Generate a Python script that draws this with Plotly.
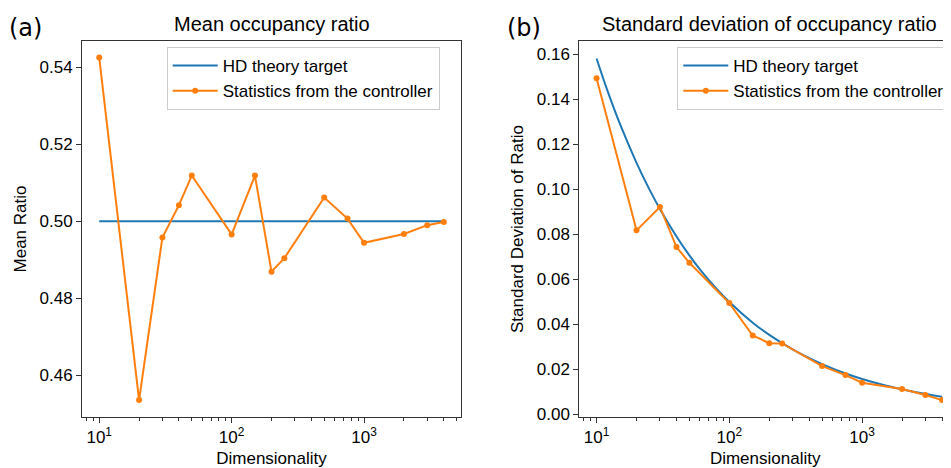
import plotly.graph_objects as go

# dimensionality sampled by the controller
dims = [10, 20, 30, 40, 50, 100, 150, 200, 250, 500, 750, 1000, 2000, 3000, 4000]

# panel (a): mean occupancy ratio
mean_ratio = [0.5426, 0.4535, 0.4958, 0.5042, 0.5119, 0.4966, 0.5119, 0.4869,
              0.4904, 0.5062, 0.5007, 0.4944, 0.4967, 0.4990, 0.4998]
theory_mean_dims = [10, 4000]
theory_mean = [0.5, 0.5]

# panel (b): standard deviation of occupancy ratio
std_ratio = [0.1493, 0.0818, 0.0922, 0.0744, 0.0674, 0.0495, 0.0351, 0.0317,
             0.0316, 0.0215, 0.0175, 0.0141, 0.0113, 0.0087, 0.0064]
theory_std_dims = [10, 12, 15, 20, 25, 30, 40, 50, 60, 80, 100, 150, 200, 300,
                   400, 500, 700, 1000, 1500, 2000, 3000, 4000]
theory_std = [0.1581, 0.1443, 0.1291, 0.1118, 0.1000, 0.0913, 0.0791, 0.0707,
              0.0645, 0.0559, 0.0500, 0.0408, 0.0354, 0.0289, 0.0250, 0.0224,
              0.0189, 0.0158, 0.0129, 0.0112, 0.0091, 0.0079]

BLUE = "#1f77b4"
ORANGE = "#ff7f0e"
FONT = "Liberation Sans, Arial, sans-serif"

# the page body adds an 8px margin, so lay out in window pixels minus that
OFF = 8
W, H = 951 - OFF, 468 - OFF


def px(x):
    return (x - OFF) / W


def py(y):
    return 1 - (y - OFF) / H


fig = go.Figure()

# (a)
fig.add_trace(go.Scatter(x=theory_mean_dims, y=theory_mean, mode="lines",
                         line=dict(color=BLUE, width=2), name="HD theory target",
                         xaxis="x", yaxis="y", legend="legend"))
fig.add_trace(go.Scatter(x=dims, y=mean_ratio, mode="lines+markers",
                         line=dict(color=ORANGE, width=2), marker=dict(size=6),
                         name="Statistics from the controller",
                         xaxis="x", yaxis="y", legend="legend"))
# (b)
fig.add_trace(go.Scatter(x=theory_std_dims, y=theory_std, mode="lines",
                         line=dict(color=BLUE, width=2, shape="spline"),
                         name="HD theory target",
                         xaxis="x2", yaxis="y2", legend="legend2"))
fig.add_trace(go.Scatter(x=dims, y=std_ratio, mode="lines+markers",
                         line=dict(color=ORANGE, width=2), marker=dict(size=6),
                         name="Statistics from the controller",
                         xaxis="x2", yaxis="y2", legend="legend2"))

xtick = dict(tickvals=[10, 100, 1000],
             ticktext=["10<sup>1</sup>", "10<sup>2</sup>", "10<sup>3</sup>"],
             ticks="outside", ticklen=5, tickcolor="#333", showgrid=False,
             zeroline=False, showline=True, linecolor="#333", linewidth=1,
             minor=dict(ticks="outside", ticklen=3, tickcolor="#333",
                        tickvals=[8, 9, 20, 30, 40, 50, 60, 70, 80, 90, 200, 300,
                                  400, 500, 600, 700, 800, 900, 2000, 3000,
                                  4000, 5000]),
             tickfont=dict(size=17),
             title=dict(text="Dimensionality", font=dict(size=17), standoff=6))
ytick = dict(ticks="outside", ticklen=5, tickcolor="#333", showgrid=False,
             zeroline=False, showline=True, linecolor="#333", linewidth=1,
             tickformat=".2f", dtick=0.02, tickfont=dict(size=17))

xlo, xhi = 0.870, 3.732
left_px = (82, 461)
right_px = (579.3, 959.3)
cut = xlo + (951 - right_px[0]) / (right_px[1] - right_px[0]) * (xhi - xlo)
top_px, bot_px = 41, 417

fig.update_layout(
    width=W, height=H,
    margin=dict(l=0, r=0, t=0, b=0, autoexpand=False),
    paper_bgcolor="white", plot_bgcolor="white",
    font=dict(family=FONT, size=17, color="black"),
    showlegend=True,
    xaxis=dict(type="log", range=[xlo, xhi], domain=[px(left_px[0]), px(left_px[1])],
               anchor="y", mirror=True, **xtick),
    yaxis=dict(range=[0.4491, 0.5469], domain=[py(bot_px), py(top_px)],
               anchor="x", mirror=True,
               title=dict(text="Mean Ratio", font=dict(size=17), standoff=8),
               **ytick),
    xaxis2=dict(type="log", range=[xlo, cut], domain=[px(right_px[0]), 1.0],
                anchor="y2", mirror=True, **xtick),
    yaxis2=dict(range=[-0.0011, 0.1659], domain=[py(bot_px), py(top_px)],
                anchor="x2", mirror=False,
                title=dict(text="Standard Deviation of Ratio", font=dict(size=17),
                           standoff=8),
                **ytick),
    legend=dict(x=px(166.7), y=py(47), xanchor="left", yanchor="top",
                bgcolor="rgba(255,255,255,0.8)", bordercolor="#cccccc",
                borderwidth=1, font=dict(size=17), itemwidth=45),
    legend2=dict(x=px(677.3), y=py(47), xanchor="left", yanchor="top",
                 bgcolor="rgba(255,255,255,0.8)", bordercolor="#cccccc",
                 borderwidth=1, font=dict(size=17), itemwidth=45),
    annotations=[
        dict(text="Mean occupancy ratio", x=px((left_px[0] + left_px[1]) / 2),
             y=py(24), xref="paper", yref="paper", showarrow=False,
             xanchor="center", yanchor="middle", font=dict(size=20)),
        dict(text="Standard deviation of occupancy ratio",
             x=px((right_px[0] + right_px[1]) / 2), y=py(24),
             xref="paper", yref="paper", showarrow=False,
             xanchor="center", yanchor="middle", font=dict(size=20)),
        dict(text="(a)", x=px(7), y=py(28), xref="paper", yref="paper",
             showarrow=False, xanchor="left", yanchor="middle",
             font=dict(size=24, family="DejaVu Sans")),
        dict(text="(b)", x=px(505), y=py(28), xref="paper", yref="paper",
             showarrow=False, xanchor="left", yanchor="middle",
             font=dict(size=24, family="DejaVu Sans")),
    ],
)

fig.write_html("out.html")
